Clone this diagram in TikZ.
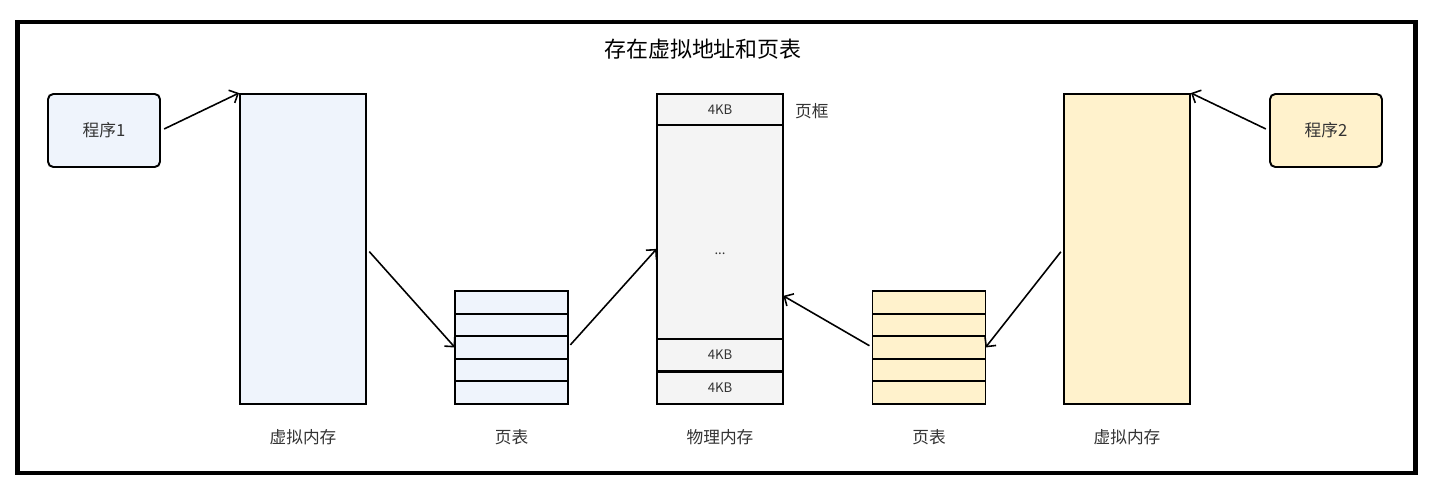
\documentclass[tikz,border=0pt]{standalone}
\usepackage{fontspec}
\setmainfont{Noto Sans CJK SC}
\usepackage{xcolor}
\usepackage{tikz}
\usetikzlibrary{arrows.meta,positioning,fit,backgrounds}

\definecolor{blueish}{RGB}{239,244,252}
\definecolor{yellowish}{RGB}{255,242,204}
\definecolor{greyish}{RGB}{244,244,244}
\definecolor{labelgrey}{RGB}{51,51,51}

\begin{document}
\begin{tikzpicture}[
    prog/.style={rectangle, rounded corners=3pt, draw, line width=1.1pt, minimum width=2.24cm, minimum height=1.46cm, font=\fontsize{9.5}{11}\selectfont, text=labelgrey},
    vmem/.style={rectangle, draw, line width=1.1pt, minimum width=2.52cm, minimum height=6.2cm},
    ptrow/.style={rectangle, draw, line width=1.1pt, outer sep=0pt, inner sep=0pt, minimum width=2.26cm, minimum height=0.452cm},
    frame/.style={rectangle, draw, line width=1.1pt, outer sep=0pt, inner sep=0pt, minimum width=2.52cm, font=\fontsize{7.5}{9}\selectfont, text=labelgrey},
    caption/.style={font=\fontsize{9.5}{11}\selectfont, text=labelgrey},
    arrow/.style={line width=0.9pt, -{Straight Barb[length=4pt,width=8pt]}, shorten <=2pt}
]
\useasboundingbox (0,0) rectangle (28.68,-9.76);
\draw[line width=2.8pt] (0.35,-0.44) rectangle (28.31,-9.46);

% Title
\node[font=\fontsize{12.5}{15}\selectfont] (title) at (14.06,-0.98) {存在虚拟地址和页表};

% Program 1 side
\node[prog, fill=blueish] (prog1) at (2.08,-2.61) {程序1};
\node[vmem, fill=blueish] (vm1) at (6.06,-4.98) {};
\node[ptrow] (pa1) at (10.23,-6.046) {};
\node[ptrow, below=0pt of pa1] (pa2) {};
\node[ptrow, below=0pt of pa2] (pa3) {};
\node[ptrow, below=0pt of pa3] (pa4) {};
\node[ptrow, below=0pt of pa4] (pa5) {};

% Physical memory
\node[frame, minimum height=0.62cm] (p1) at (14.4,-2.19) {4KB};
\node[frame, minimum height=4.28cm, below=0pt of p1] (p2) {};
\node[frame, minimum height=0.64cm, below=0pt of p2] (p3) {4KB};
\node[frame, minimum height=0.64cm, below=0.015cm of p3] (p4) {4KB};
\node[fit=(p1)(p4), inner sep=0pt] (phys) {};
\node[font=\fontsize{7.5}{9}\selectfont, text=labelgrey] (dots) at ([yshift=-0.1cm]phys.center) {...};
\node[caption, anchor=west] (pframe) at (15.78,-2.22) {页框};

% Program 2 side
\node[ptrow] (pb1) at (18.58,-6.046) {};
\node[ptrow, below=0pt of pb1] (pb2) {};
\node[ptrow, below=0pt of pb2] (pb3) {};
\node[ptrow, below=0pt of pb3] (pb4) {};
\node[ptrow, below=0pt of pb4] (pb5) {};
\node[vmem, fill=yellowish] (vm2) at (22.54,-4.98) {};
\node[prog, fill=yellowish] (prog2) at (26.52,-2.61) {程序2};

% Fills behind the stacked boxes
\begin{scope}[on background layer]
\node[fit=(pa1)(pa5), inner sep=0pt, fill=blueish] (ptab1) {};
\node[fit=(pb1)(pb5), inner sep=0pt, fill=yellowish] (ptab2) {};
\node[fit=(p1)(p4), inner sep=0pt, fill=greyish] (physbg) {};
\end{scope}

% Captions
\node[caption] (cap1) at (6.06,-8.74) {虚拟内存};
\node[caption] (cap2) at (10.23,-8.74) {页表};
\node[caption] (cap3) at (14.4,-8.74) {物理内存};
\node[caption] (cap4) at (18.58,-8.74) {页表};
\node[caption] (cap5) at (22.54,-8.74) {虚拟内存};

% Arrows
\draw[arrow] (prog1.east) -- (vm1.north west);
\draw[arrow] (vm1.east) -- (pa3.west);
\draw[arrow] (pa3.east) -- (phys.west);
\draw[arrow] (pb3.west) -- ([yshift=-0.94cm]phys.east);
\draw[arrow] (vm2.west) -- (pb3.east);
\draw[arrow] (prog2.west) -- (vm2.north east);

\end{tikzpicture}
\end{document}
